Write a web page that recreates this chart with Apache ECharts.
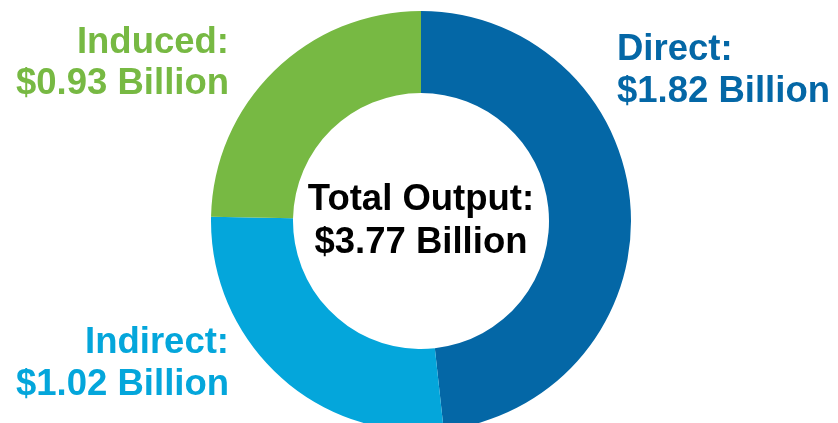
<!DOCTYPE html>
<html>
<head>
<meta charset="utf-8">
<script src="https://cdn.jsdelivr.net/npm/echarts@6/dist/echarts.min.js"></script>
<style>
  html, body { margin: 0; padding: 0; background: #ffffff; }
  #chart { width: 838px; height: 423px; }
</style>
</head>
<body>
<div id="chart"></div>
<script>
// Economic output by effect type, in billions of dollars
const categories = ['Direct', 'Indirect', 'Induced'];
const outputBillions = [1.82, 1.02, 0.93];
const totalTitle = 'Total Output';

const sliceColors = ['#0467a6', '#04a6db', '#77b943'];
const fontFamily = '"Liberation Sans", Arial, Helvetica, sans-serif';

const money = v => '$' + v.toFixed(2) + ' Billion';
const total = outputBillions.reduce((a, b) => a + b, 0);

// Label placement per category: anchor x, alignment and the two line baselines
const labelLayout = {
  Direct:   { x: 617, align: 'left',  y1: 60,  y2: 102 },
  Indirect: { x: 229, align: 'right', y1: 353, y2: 395 },
  Induced:  { x: 229, align: 'right', y1: 53,  y2: 94 }
};

function textEl(str, x, y, align, color) {
  return {
    type: 'text',
    x: x,
    y: y,
    style: {
      text: str,
      fill: color,
      font: 'bold 36.5px ' + fontFamily,
      textAlign: align,
      textVerticalAlign: 'bottom'
    },
    silent: true
  };
}

const graphics = [];
categories.forEach((name, i) => {
  const l = labelLayout[name];
  graphics.push(textEl(name + ':', l.x, l.y1 + 8, l.align, sliceColors[i]));
  graphics.push(textEl(money(outputBillions[i]), l.x, l.y2 + 8, l.align, sliceColors[i]));
});
graphics.push(textEl(totalTitle + ':', 421, 218, 'center', '#000000'));
graphics.push(textEl(money(total), 421, 261, 'center', '#000000'));

const chart = echarts.init(document.getElementById('chart'), null, { renderer: 'canvas' });
chart.setOption({
  animation: false,
  backgroundColor: '#ffffff',
  color: sliceColors,
  series: [{
    type: 'pie',
    center: [421, 221],
    radius: [128, 210],
    startAngle: 90,
    clockwise: true,
    label: { show: false },
    labelLine: { show: false },
    emphasis: { disabled: true },
    itemStyle: { borderWidth: 0 },
    data: categories.map((name, i) => ({ name: name, value: outputBillions[i] }))
  }],
  graphic: graphics
});
</script>
</body>
</html>
